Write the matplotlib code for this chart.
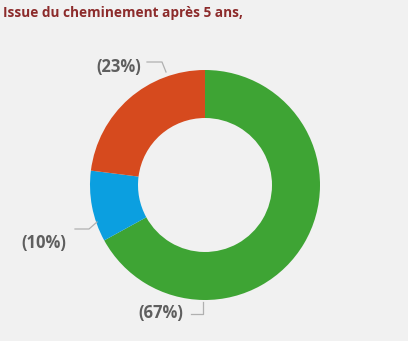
import matplotlib
matplotlib.use('Agg')
import matplotlib.pyplot as plt

plt.rcParams['font.family'] = ['Open Sans', 'DejaVu Sans']

# donnees
categories = ['Diplômé', 'Abandon', 'En cours']
parts = [67, 10, 23]
colors = ['#3ea434', '#0b9fe0', '#d64a1e']
title = 'Issue du cheminement après 5 ans,'

fig = plt.figure(figsize=(4.08, 3.41), dpi=100)
fig.patch.set_facecolor('#f1f1f1')
ax = fig.add_axes([0, 0, 1, 1])
ax.set_facecolor('#f1f1f1')

# anneau (axe y inverse -> counterclock=True donne le sens horaire a l'ecran)
ax.pie(parts, colors=colors, startangle=-90, counterclock=True,
       center=(205, 185), radius=115, frame=True,
       wedgeprops=dict(width=48, edgecolor='none'))
ax.set_xlim(0, 408)
ax.set_ylim(341, 0)
ax.set_aspect('equal')
ax.axis('off')

# titre
fig.text(0.008, 0.963, title, color='#8c2b2b', fontsize=9.8,
         fontweight='bold', ha='left', va='center')

# etiquettes avec traits de rappel (position du texte, trait)
label_layout = {
    'En cours': ((119, 67), [(147, 62), (162, 62), (166, 72)]),
    'Abandon': ((44, 243), [(75, 229), (89, 229), (97, 222)]),
    'Diplômé': ((161, 313), [(191, 314), (203, 314), (203, 302)]),
}
for cat, val in zip(categories, parts):
    (tx, ty), pts = label_layout[cat]
    ax.text(tx, ty, '(%d%%)' % val, color='#5f5f5f', fontsize=12,
            fontweight='bold', ha='center', va='center')
    xs = [p[0] for p in pts]
    ys = [p[1] for p in pts]
    ax.plot(xs, ys, color='#b0b0b0', lw=0.9)

fig.savefig('out.png', dpi=100, facecolor=fig.get_facecolor())
